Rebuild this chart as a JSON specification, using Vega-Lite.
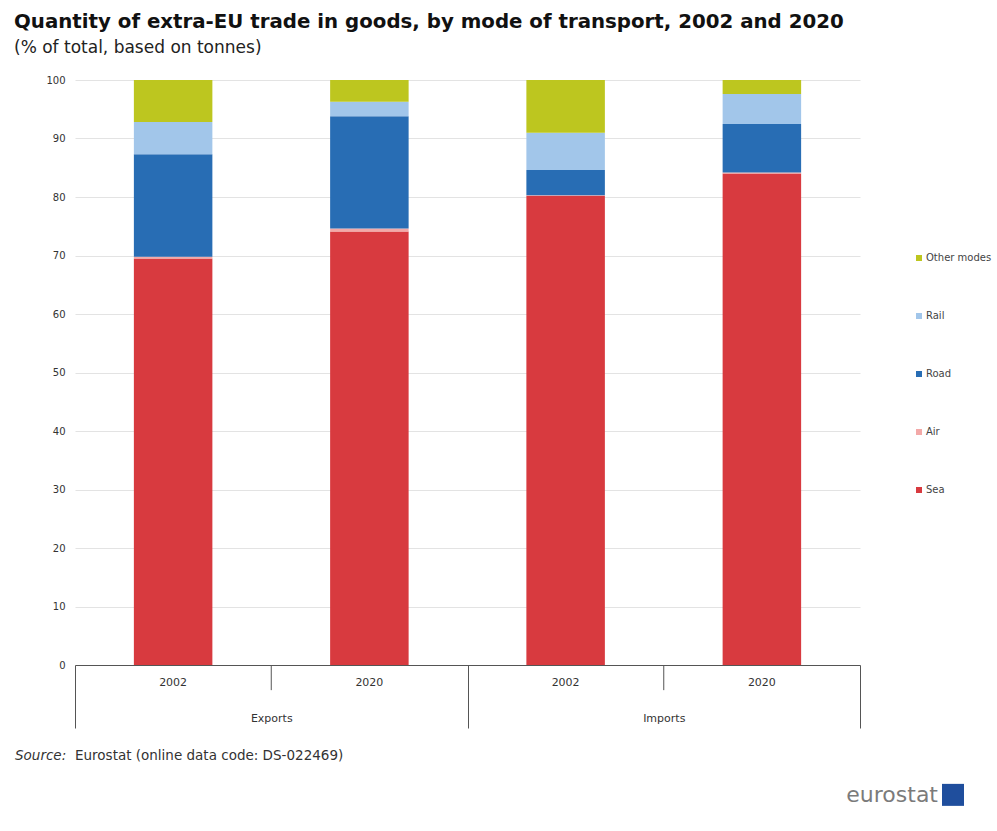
{
  "$schema": "https://vega.github.io/schema/vega-lite/v6.json",
  "width": 785,
  "height": 585,
  "autosize": {"type": "none"},
  "padding": {"left": 75, "top": 80, "right": 137, "bottom": 166},
  "background": "white",
  "config": {
    "view": {"stroke": null},
    "font": "DejaVu Sans"
  },
  "title": {
    "text": "Quantity of extra-EU trade in goods, by mode of transport, 2002 and 2020",
    "subtitle": "(% of total, based on tonnes)",
    "anchor": "start",
    "frame": "group",
    "dx": -61,
    "offset": 19,
    "font": "DejaVu Sans",
    "fontSize": 19.8,
    "fontWeight": "bold",
    "color": "#111",
    "subtitleFont": "DejaVu Sans",
    "subtitleFontSize": 17,
    "subtitleColor": "#222",
    "subtitlePadding": 8
  },
  "datasets": {
    "trade": [
      {"flow": "Exports", "year": "2002", "mode": "Sea", "k": 1, "value": 69.5},
      {"flow": "Exports", "year": "2002", "mode": "Air", "k": 2, "value": 0.3},
      {"flow": "Exports", "year": "2002", "mode": "Road", "k": 3, "value": 17.5},
      {"flow": "Exports", "year": "2002", "mode": "Rail", "k": 4, "value": 5.5},
      {"flow": "Exports", "year": "2002", "mode": "Other modes", "k": 5, "value": 7.2},
      {"flow": "Exports", "year": "2020", "mode": "Sea", "k": 1, "value": 74.1},
      {"flow": "Exports", "year": "2020", "mode": "Air", "k": 2, "value": 0.5},
      {"flow": "Exports", "year": "2020", "mode": "Road", "k": 3, "value": 19.2},
      {"flow": "Exports", "year": "2020", "mode": "Rail", "k": 4, "value": 2.5},
      {"flow": "Exports", "year": "2020", "mode": "Other modes", "k": 5, "value": 3.7},
      {"flow": "Imports", "year": "2002", "mode": "Sea", "k": 1, "value": 80.2},
      {"flow": "Imports", "year": "2002", "mode": "Air", "k": 2, "value": 0.1},
      {"flow": "Imports", "year": "2002", "mode": "Road", "k": 3, "value": 4.3},
      {"flow": "Imports", "year": "2002", "mode": "Rail", "k": 4, "value": 6.4},
      {"flow": "Imports", "year": "2002", "mode": "Other modes", "k": 5, "value": 9.0},
      {"flow": "Imports", "year": "2020", "mode": "Sea", "k": 1, "value": 84.0},
      {"flow": "Imports", "year": "2020", "mode": "Air", "k": 2, "value": 0.2},
      {"flow": "Imports", "year": "2020", "mode": "Road", "k": 3, "value": 8.3},
      {"flow": "Imports", "year": "2020", "mode": "Rail", "k": 4, "value": 5.1},
      {"flow": "Imports", "year": "2020", "mode": "Other modes", "k": 5, "value": 2.4}
    ],
    "years": [
      {"flow": "Exports", "year": "2002"},
      {"flow": "Exports", "year": "2020"},
      {"flow": "Imports", "year": "2002"},
      {"flow": "Imports", "year": "2020"}
    ],
    "flows": [
      {"flow": "Exports"},
      {"flow": "Imports"}
    ]
  },
  "layer": [
    {
      "data": {"name": "trade"},
      "mark": {"type": "bar"},
      "encoding": {
        "x": {
          "field": "flow",
          "type": "nominal",
          "scale": {"paddingInner": 0, "paddingOuter": 0},
          "axis": {
            "title": null,
            "labelAngle": 0,
            "tickBand": "extent",
            "tickSize": 63,
            "labelPadding": -16,
            "domainColor": "#555",
            "tickColor": "#555",
            "labelFont": "DejaVu Sans",
            "labelFontSize": 11,
            "labelColor": "#333",
            "grid": false
          }
        },
        "xOffset": {
          "field": "year",
          "type": "nominal",
          "scale": {"paddingInner": 0.6, "paddingOuter": 0.3}
        },
        "y": {
          "field": "value",
          "type": "quantitative",
          "stack": "zero",
          "scale": {"domain": [0, 100], "nice": false},
          "axis": {
            "title": null,
            "values": [0, 10, 20, 30, 40, 50, 60, 70, 80, 90, 100],
            "domain": false,
            "ticks": false,
            "labelPadding": 10,
            "gridColor": "#e3e3e3",
            "labelFont": "DejaVu Sans",
            "labelFontSize": 10,
            "labelColor": "#333"
          }
        },
        "color": {
          "field": "mode",
          "type": "nominal",
          "scale": {
            "domain": ["Other modes", "Rail", "Road", "Air", "Sea"],
            "range": ["#bdc61f", "#a2c6ea", "#286db4", "#f3a9a8", "#d83a3f"]
          },
          "legend": {
            "title": null,
            "orient": "none",
            "legendX": 839,
            "legendY": 173,
            "symbolType": "square",
            "symbolSize": 36,
            "symbolStrokeWidth": 0,
            "labelFont": "DejaVu Sans",
            "labelFontSize": 10,
            "labelColor": "#444",
            "labelOffset": 2,
            "rowPadding": 48,
            "labelLimit": 200
          }
        },
        "order": {"field": "k", "type": "quantitative", "sort": "ascending"}
      }
    },
    {
      "data": {"name": "years"},
      "mark": {"type": "text", "dy": 18, "baseline": "middle", "align": "center", "fontSize": 11, "color": "#333", "font": "DejaVu Sans"},
      "encoding": {
        "x": {"field": "flow", "type": "nominal"},
        "xOffset": {"field": "year", "type": "nominal"},
        "y": {"datum": 0},
        "text": {"field": "year"}
      }
    },
    {
      "data": {"name": "flows"},
      "mark": {"type": "rule", "color": "#555", "strokeWidth": 1},
      "encoding": {
        "x": {"field": "flow", "type": "nominal"},
        "y": {"datum": 0},
        "y2": {"datum": -4.3}
      }
    },
    {
      "data": {"values": [{"t": "Source:"}]},
      "mark": {"type": "text", "align": "left", "baseline": "alphabetic", "dx": -60, "fontSize": 13.5, "fontStyle": "italic", "color": "#333", "font": "DejaVu Sans"},
      "encoding": {
        "x": {"datum": "Exports", "bandPosition": 0},
        "y": {"datum": -16.3},
        "text": {"field": "t"}
      }
    },
    {
      "data": {"values": [{"t": "Eurostat (online data code: DS-022469)"}]},
      "mark": {"type": "text", "align": "left", "baseline": "alphabetic", "dx": 0, "fontSize": 13.5, "color": "#333", "font": "DejaVu Sans"},
      "encoding": {
        "x": {"datum": "Exports", "bandPosition": 0},
        "y": {"datum": -16.3},
        "text": {"field": "t"}
      }
    },
    {
      "data": {"values": [{"t": "eurostat"}]},
      "mark": {"type": "text", "align": "right", "baseline": "middle", "dx": 78, "fontSize": 22, "color": "#7b7b7b", "font": "DejaVu Sans"},
      "encoding": {
        "x": {"datum": "Imports", "bandPosition": 1},
        "y": {"datum": -22.2},
        "text": {"field": "t"}
      }
    },
    {
      "data": {"values": [{"t": "EU"}]},
      "mark": {"type": "point", "shape": "square", "filled": true, "size": 484, "color": "#1f4e9d", "opacity": 1, "xOffset": 93},
      "encoding": {
        "x": {"datum": "Imports", "bandPosition": 1},
        "y": {"datum": -22.2}
      }
    }
  ]
}
